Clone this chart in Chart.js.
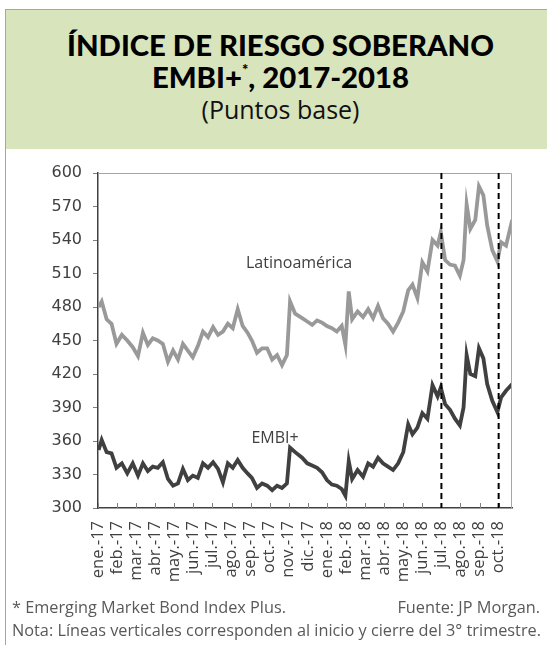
<!DOCTYPE html>
<html lang="es">
<head>
<meta charset="utf-8">
<title>Índice de riesgo soberano EMBI+, 2017-2018</title>
<script src="https://cdn.jsdelivr.net/npm/chart.js@4.4.1/dist/chart.umd.min.js"></script>
<style>
  html, body { margin: 0; padding: 0; background: #fff; }
  body { width: 547px; height: 645px; position: relative; overflow: hidden; font-family: "Open Sans", sans-serif; }
  #frame { position: absolute; left: 5px; top: 9px; width: 542px; height: 636px; border-left: 1px solid #a6a6a6; border-top: 1px solid #a6a6a6; box-sizing: border-box; }
  #header { position: absolute; left: 6px; top: 10px; width: 541px; height: 139px; background: #d8e4bc; }
  .t { position: absolute; left: 10px; width: 541px; text-align: center; color: #000; white-space: nowrap; }
  #t1, #t2 { font-family: "Lato", sans-serif; font-weight: 900; font-size: 29.3px; line-height: 30px; }
  #t1 { top: 30px; }
  #t2 { top: 62px; }
  #t2 sup { font-size: 15px; vertical-align: 13px; line-height: 0; }
  #t3 { top: 94px; font-size: 25px; line-height: 30px; color: #111; }
  #box { position: absolute; left: 0; top: 0; width: 547px; height: 645px; }
  .f { position: absolute; font-size: 16.3px; line-height: 20px; color: #595959; white-space: nowrap; }
  #f1 { left: 12px; top: 597px; }
  #f2 { right: 7px; top: 597px; }
  #f3 { left: 12px; top: 620px; }
</style>
</head>
<body>
<div id="frame"></div>
<div id="header"></div>
<div class="t" id="t1">ÍNDICE DE RIESGO SOBERANO</div>
<div class="t" id="t2">EMBI+<sup>*</sup>, 2017-2018</div>
<div class="t" id="t3">(Puntos base)</div>
<div id="box"><canvas id="chart" width="547" height="645"></canvas></div>
<div class="f" id="f1">* Emerging Market Bond Index Plus.</div>
<div class="f" id="f2">Fuente: JP Morgan.</div>
<div class="f" id="f3">Nota: Líneas verticales corresponden al inicio y cierre del 3° trimestre.</div>
<script>
// etiquetas de los meses (una por marca del eje x)
const monthLabels = ['ene.-17', 'feb.-17', 'mar.-17', 'abr.-17', 'may.-17', 'jun.-17', 'jul.-17', 'ago.-17',
    'sep.-17', 'oct.-17', 'nov.-17', 'dic.-17', 'ene.-18', 'feb.-18', 'mar.-18', 'abr.-18', 'may.-18',
    'jun.-18', 'jul.-18', 'ago.-18', 'sep.-18', 'oct.-18'];

// fechas de las observaciones
const dates = [
    '2017-01-02', '2017-01-07', '2017-01-15', '2017-01-23', '2017-01-31', '2017-02-08', '2017-02-16', '2017-02-24',
    '2017-03-04', '2017-03-12', '2017-03-20', '2017-03-28', '2017-04-05', '2017-04-13', '2017-04-21', '2017-04-29',
    '2017-05-07', '2017-05-15', '2017-05-23', '2017-05-31', '2017-06-08', '2017-06-16', '2017-06-24', '2017-07-02',
    '2017-07-10', '2017-07-18', '2017-07-26', '2017-08-03', '2017-08-11', '2017-08-19', '2017-08-27', '2017-09-03',
    '2017-09-11', '2017-09-19', '2017-09-27', '2017-10-05', '2017-10-13', '2017-10-21', '2017-10-29', '2017-11-03',
    '2017-11-11', '2017-11-22', '2017-11-30', '2017-12-08', '2017-12-16', '2017-12-24', '2018-01-01', '2018-01-09',
    '2018-01-17', '2018-01-25', '2018-01-31', '2018-02-05', '2018-02-10', '2018-02-18', '2018-02-26', '2018-03-06',
    '2018-03-14', '2018-03-22', '2018-03-30', '2018-04-07', '2018-04-15', '2018-04-23', '2018-05-01', '2018-05-09',
    '2018-05-16', '2018-05-24', '2018-06-01', '2018-06-09', '2018-06-17', '2018-06-25', '2018-06-30', '2018-07-07',
    '2018-07-15', '2018-07-23', '2018-07-31', '2018-08-06', '2018-08-11', '2018-08-17', '2018-08-25', '2018-08-31',
    '2018-09-07', '2018-09-13', '2018-09-21', '2018-09-29', '2018-10-05', '2018-10-13', '2018-10-23'
];

// Latinoamérica (puntos base)
const latam = [
    480, 485, 469, 465, 447, 455, 450, 444, 436, 457, 446, 452, 450, 447, 431, 441,
    433, 447, 441, 435, 445, 458, 453, 462, 455, 458, 465, 461, 478, 463, 457, 450,
    439, 443, 443, 433, 437, 428, 437, 485, 474, 470, 467, 464, 468, 466, 463, 461,
    458, 463, 446, 494, 469, 476, 471, 478, 470, 481, 470, 465, 458, 466, 476, 495,
    500, 488, 520, 512, 540, 535, 547, 522, 518, 517, 508, 522, 572, 550, 558, 588,
    580, 553, 531, 521, 538, 535, 558
];

// EMBI+ global (puntos base)
const embi = [
    352, 361, 350, 349, 336, 340, 331, 340, 329, 340, 333, 337, 336, 341, 326, 320,
    322, 335, 325, 329, 327, 340, 336, 341, 335, 323, 340, 336, 343, 336, 331, 327,
    318, 322, 320, 316, 320, 318, 322, 354, 350, 345, 340, 338, 336, 332, 325, 321,
    320, 317, 311, 342, 326, 334, 328, 340, 337, 345, 340, 337, 334, 340, 350, 375,
    366, 372, 385, 380, 410, 400, 408, 393, 388, 380, 374, 390, 437, 420, 418, 443,
    434, 411, 396, 386, 399, 405, 411
];

const yTicks = [300, 330, 360, 390, 420, 450, 480, 510, 540, 570, 600];
const xMax = 21.7;            // último día visible (oct.-18)
const dashedMonths = [18, 21]; // inicio y cierre del 3er trimestre 2018
const seriesNotes = [
    { text: 'Latinoamérica', x: 10.54, y: 519 },
    { text: 'EMBI+', x: 9.28, y: 362 }
];

const textColor = '#404040';

// fecha -> posición en meses desde ene-2017
function monthPos(s) {
    const [y, m, d] = s.split('-').map(Number);
    const dim = new Date(y, m, 0).getDate();
    return (y - 2017) * 12 + (m - 1) + (d - 1) / dim;
}

const decor = {
    id: 'decor',
    afterDatasetsDraw(chart) {
        const { ctx, chartArea: a, scales: { x, y } } = chart;
        ctx.save();
        // marco superior y derecho
        ctx.strokeStyle = '#a6a6a6';
        ctx.lineWidth = 1;
        ctx.beginPath();
        ctx.moveTo(a.left, a.top + 0.5);
        ctx.lineTo(a.right - 0.5, a.top + 0.5);
        ctx.lineTo(a.right - 0.5, a.bottom);
        ctx.stroke();
        // marcas del eje x hacia adentro
        ctx.strokeStyle = '#808080';
        ctx.beginPath();
        monthLabels.forEach((_, i) => {
            const px = Math.round(x.getPixelForValue(i)) + 0.5;
            ctx.moveTo(px, a.bottom);
            ctx.lineTo(px, a.bottom - 5);
        });
        ctx.stroke();
        // líneas verticales punteadas
        ctx.strokeStyle = '#000';
        ctx.lineWidth = 2;
        ctx.setLineDash([6, 4]);
        dashedMonths.forEach((m) => {
            const px = x.getPixelForValue(m);
            ctx.beginPath();
            ctx.moveTo(px, a.top);
            ctx.lineTo(px, a.bottom);
            ctx.stroke();
        });
        ctx.setLineDash([]);
        // nombres de las series
        ctx.fillStyle = textColor;
        ctx.font = '16px "Open Sans", sans-serif';
        ctx.textAlign = 'center';
        ctx.textBaseline = 'middle';
        seriesNotes.forEach((n) => ctx.fillText(n.text, x.getPixelForValue(n.x), y.getPixelForValue(n.y)));
        ctx.restore();
    }
};

const ctx = document.getElementById('chart').getContext('2d');
new Chart(ctx, {
    type: 'line',
    data: {
        datasets: [
            {
                label: 'Latinoamérica',
                data: dates.map((d, i) => ({ x: monthPos(d), y: latam[i] })),
                borderColor: '#999999',
                borderWidth: 3.8,
                pointRadius: 0,
                tension: 0
            },
            {
                label: 'EMBI+',
                data: dates.map((d, i) => ({ x: monthPos(d), y: embi[i] })),
                borderColor: '#404040',
                borderWidth: 3.8,
                pointRadius: 0,
                tension: 0
            }
        ]
    },
    options: {
        responsive: false,
        animation: false,
        layout: { padding: { left: 48, top: 173, right: 35, bottom: 57 } },
        plugins: { legend: { display: false }, tooltip: { enabled: false } },
        scales: {
            x: {
                type: 'linear',
                min: 0,
                max: xMax,
                afterBuildTicks: (s) => { s.ticks = monthLabels.map((_, i) => ({ value: i })); },
                afterFit: (s) => { s.height = 80; },
                ticks: {
                    autoSkip: false,
                    minRotation: 90,
                    maxRotation: 90,
                    padding: 13,
                    color: textColor,
                    font: { family: '"Open Sans", sans-serif', size: 16.5 },
                    callback: (v) => monthLabels[Math.round(v)]
                },
                grid: { display: true, drawOnChartArea: false, drawTicks: false },
                border: { color: '#404040', width: 1.5 }
            },
            y: {
                min: 300,
                max: 600,
                afterBuildTicks: (s) => { s.ticks = yTicks.map((v) => ({ value: v })); },
                afterFit: (s) => { s.width = 50; },
                ticks: { padding: 11, color: textColor, font: { family: '"DejaVu Sans", sans-serif', size: 16 } },
                grid: { drawOnChartArea: false, tickLength: 5, color: '#808080' },
                border: { color: '#404040', width: 1.5 }
            }
        }
    },
    plugins: [decor]
});
</script>
</body>
</html>
